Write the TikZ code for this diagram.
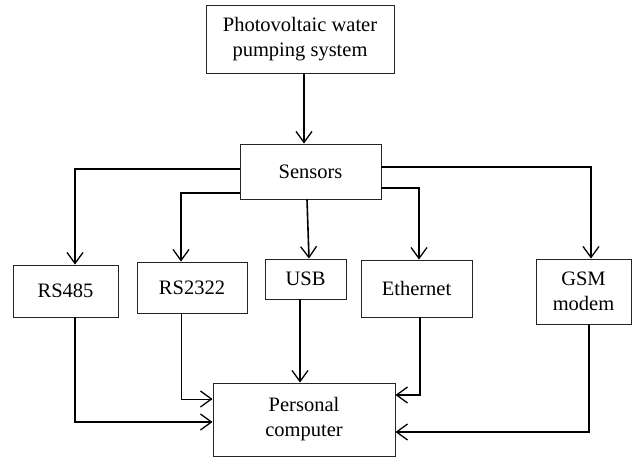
\documentclass[tikz,border=0pt]{standalone}
\usepackage{fontspec}
\setmainfont{Liberation Serif}
\usetikzlibrary{arrows.meta, positioning}

\begin{document}
\begin{tikzpicture}[
  x=1pt, y=-1pt,
  >={Straight Barb[length=11pt, width=16pt, line width=1.3pt]},
  every node/.style={font=\fontsize{20.5}{25}\selectfont},
  blk/.style={draw=black!85, line width=0.9pt, align=center, inner sep=2pt},
  link/.style={->, line width=1.6pt}
]
\useasboundingbox (0,0) rectangle (632,457);
% blocks
\node[blk, minimum width=188pt, minimum height=68pt] (pv) at (300,39) {Photovoltaic water\\pumping system};
\node[blk, minimum width=141pt, minimum height=55pt] (sens) at (310.5,171.5) {Sensors};
\node[blk, minimum width=105pt, minimum height=52pt] (rs485) at (65.5,291) {RS485};
\node[blk, minimum width=110pt, minimum height=51pt] (rs232) at (192,287.5) {RS2322};
\node[blk, minimum width=81pt, minimum height=40pt] (usb) at (305.5,279) {USB};
\node[blk, minimum width=111pt, minimum height=57pt] (eth) at (416.5,288.5) {Ethernet};
\node[blk, minimum width=95pt, minimum height=65pt] (gsm) at (583.5,291.5) {GSM\\modem};
\node[blk, minimum width=182pt, minimum height=73pt] (pc) at (304,419.5) {Personal\\computer};
% sensors
\draw[link] ([xshift=4]pv.south) -- ([xshift=-6.5]sens.north);
% sensors to interfaces
\draw[link] ([yshift=2.5]sens.west) -| ([xshift=9.5]rs485.north);
\draw[link] ([yshift=-21.5]sens.west) -| ([xshift=-11]rs232.north);
\draw[link] ([xshift=-3.5]sens.south) -- ([xshift=3.5]usb.north);
\draw[link] ([yshift=-16.5]sens.east) -| ([xshift=2.5]eth.north);
\draw[link] ([yshift=4.5]sens.east) -| ([xshift=7.5]gsm.north);
% interfaces to computer
\draw[link] ([xshift=9.5]rs485.south) |- ([yshift=-2.5]pc.west);
\draw[link, line width=1pt] ([xshift=-11]rs232.south) |- ([yshift=20.5]pc.west);
\draw[link] ([xshift=-5.5]usb.south) -- ([xshift=-4]pc.north);
\draw[link] ([xshift=3.5]eth.south) |- ([yshift=24.5]pc.east);
\draw[link] ([xshift=5.5]gsm.south) |- ([yshift=-12.5]pc.east);
\end{tikzpicture}
\end{document}
